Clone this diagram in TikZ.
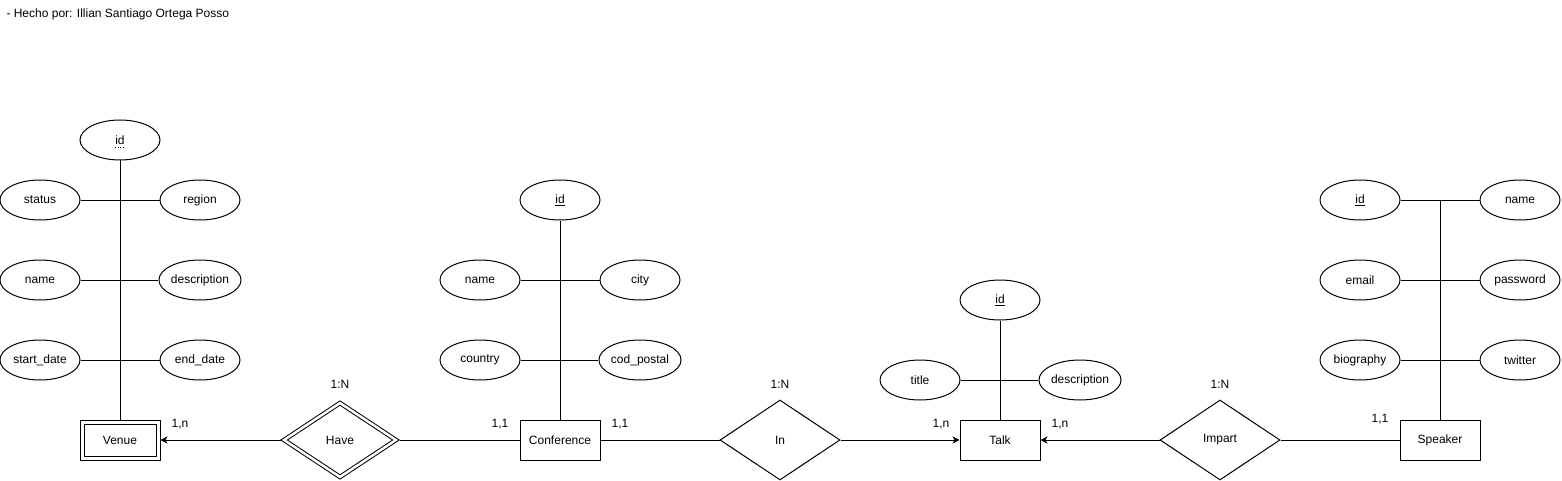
\documentclass[tikz,border=0pt]{standalone}
\usepackage{fontspec}
\setmainfont{Liberation Sans}
\usetikzlibrary{shapes.geometric,arrows.meta}
\tikzset{
  txt/.style={font=\fontsize{12}{14}\selectfont},
  attr/.style={draw, ellipse, minimum width=80pt, minimum height=40pt, inner sep=0pt, txt},
  ent/.style={draw, rectangle, minimum width=80pt, minimum height=40pt, inner sep=0pt, txt},
  rel/.style={draw, diamond, minimum width=120pt, minimum height=80pt, inner sep=0pt, txt},
  lbl/.style={inner sep=0pt, txt},
  arr/.style={-{Stealth[length=7pt,width=7pt,inset=2pt]}},
  partialkey/.style={dotted, line width=0.7pt}
}
\begin{document}
\begin{tikzpicture}[x=1pt,y=-1pt,line width=1pt]
\useasboundingbox (0,0) rectangle (1562,481);
\node[anchor=west, inner sep=0pt, font=\fontsize{12}{14}\selectfont] (title) at (6,14) {- Hecho por: Illian Santiago Ortega Posso};

% Venue
\node[ent, minimum width=76pt, minimum height=36pt, double, double distance=3pt, outer sep=2.5pt] (venue) at (120,440) {Venue};
\node[attr] (vid) at (120,140) {id};
\draw[partialkey] ([shift={(-5,7)}]vid.center) -- ([shift={(5,7)}]vid.center);
\node[attr] (vstatus) at (40,200) {status};
\node[attr] (vregion) at (200,200) {region};
\node[attr] (vname) at (40,280) {name};
\node[attr] (vdesc) at (200,280) {description};
\node[attr] (vstart) at (40,360) {start\_date};
\node[attr] (vend) at (200,360) {end\_date};
\draw (vid.south) -- (venue.north);
\draw (vstatus.east) -- (vregion.west);
\draw (vname.east) -- (vdesc.west);
\draw (vstart.east) -- (vend.west);

% Conference
\node[ent] (conf) at (560,440) {Conference};
\node[attr] (cid) at (560,200) {\underline{id}};
\node[attr] (cname) at (480,280) {name};
\node[attr] (ccity) at (640,280) {city};
\node[attr] (ccountry) at (480,360) {country};
\node[attr] (cpostal) at (640,360) {cod\_postal};
\draw (cid.south) -- (conf.north);
\draw (cname.east) -- (ccity.west);
\draw (ccountry.east) -- (cpostal.west);

% Talk
\node[ent] (talk) at (1000,440) {Talk};
\node[attr] (tid) at (1000,300) {\underline{id}};
\node[attr] (ttitle) at (920,380) {title};
\node[attr] (tdesc) at (1080,380) {description};
\draw (tid.south) -- (talk.north);
\draw (ttitle.east) -- (tdesc.west);

% Speaker
\node[ent] (speaker) at (1440,440) {Speaker};
\node[attr] (sid) at (1360,200) {\underline{id}};
\node[attr] (sname) at (1520,200) {name};
\node[attr] (semail) at (1360,280) {email};
\node[attr] (spass) at (1520,280) {password};
\node[attr] (sbio) at (1360,360) {biography};
\node[attr] (stw) at (1520,360) {twitter};
\coordinate (sj) at (1440,200);
\draw (sid.east) -- (sname.west);
\draw (semail.east) -- (spass.west);
\draw (sbio.east) -- (stw.west);
\draw (sj) -- (speaker.north);

% Relations
\node[rel, minimum width=114pt, minimum height=76pt, double, double distance=2.5pt, outer sep=2.5pt] (have) at (340,440) {Have};
\node[rel] (in) at (780,440) {In};
\node[rel] (impart) at (1220,440) {Impart};

\draw[arr] (have.west) -- (venue.east);
\draw (have.east) -- (conf.west);
\draw (conf.east) -- (in.west);
\draw[arr] (in.east) -- (talk.west);
\draw[arr] (impart.west) -- (talk.east);
\draw (impart.east) -- (speaker.west);

% Labels
\node[lbl] (l1) at (180,424) {1,n};
\node[lbl] (l2) at (340,384) {1:N};
\node[lbl] (l3) at (500,424) {1,1};
\node[lbl] (l4) at (620,424) {1,1};
\node[lbl] (l5) at (780,384) {1:N};
\node[lbl] (l6) at (941,424) {1,n};
\node[lbl] (l7) at (1060,424) {1,n};
\node[lbl] (l8) at (1220,384) {1:N};
\node[lbl] (l9) at (1380,419) {1,1};
\end{tikzpicture}
\end{document}
